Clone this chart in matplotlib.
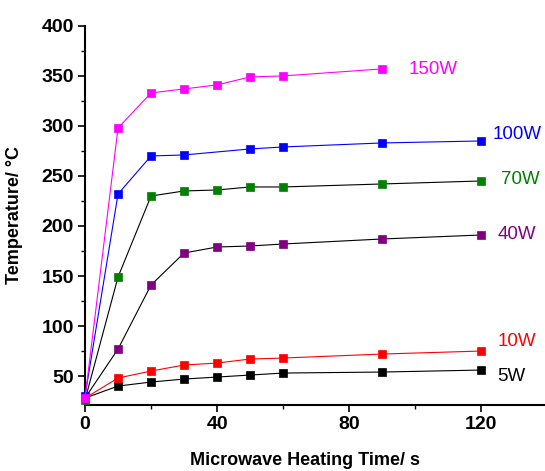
import matplotlib.pyplot as plt
from matplotlib.ticker import MultipleLocator

# heating time (s) and temperature (deg C) per microwave power
t_5w = [0, 10, 20, 30, 40, 50, 60, 90, 120]
T_5w = [28, 40, 44, 47, 49, 51, 53, 54, 56]
t_10w = [0, 10, 20, 30, 40, 50, 60, 90, 120]
T_10w = [28, 48, 55, 61, 63, 67, 68, 72, 75]
t_40w = [0, 10, 20, 30, 40, 50, 60, 90, 120]
T_40w = [28, 77, 141, 173, 179, 180, 182, 187, 191]
t_70w = [0, 10, 20, 30, 40, 50, 60, 90, 120]
T_70w = [26, 149, 230, 235, 236, 239, 239, 242, 245]
t_100w = [0, 10, 20, 30, 50, 60, 90, 120]
T_100w = [30, 232, 270, 271, 277, 279, 283, 285]
t_150w = [0, 10, 20, 30, 40, 50, 60, 90]
T_150w = [28, 298, 333, 337, 341, 349, 350, 357]

labels = ['5W', '10W', '40W', '70W', '100W', '150W']
label_pos = [(125, 50), (125, 85), (125, 191), (126, 246), (123.5, 291), (98, 356)]

series = [
    (t_5w, T_5w, 'black', 'black'),
    (t_10w, T_10w, 'red', 'red'),
    (t_40w, T_40w, 'black', '#800080'),
    (t_70w, T_70w, 'black', '#008000'),
    (t_100w, T_100w, 'blue', 'blue'),
    (t_150w, T_150w, '#ff00ff', '#ff00ff'),
]

plt.rcParams['font.family'] = ['Liberation Sans', 'DejaVu Sans']

fig = plt.figure(figsize=(5.45, 4.71), dpi=100)
ax = fig.add_axes([0.156, 0.140, 0.842, 0.805])

for (x, y, lc, mc), lab, (lx, ly) in zip(series, labels, label_pos):
    ax.plot(x, y, color=lc, lw=0.8, marker='s', markersize=6,
            markerfacecolor=mc, markeredgecolor=mc, markeredgewidth=0.5,
            clip_on=False, zorder=3)
    ax.text(lx, ly, lab, color=mc, fontsize=13.5, va='center', ha='left')

ax.set_xlim(0, 139)
ax.set_ylim(21, 400)
ax.xaxis.set_major_locator(MultipleLocator(40))
ax.xaxis.set_minor_locator(MultipleLocator(20))
ax.yaxis.set_major_locator(MultipleLocator(50))
ax.yaxis.set_minor_locator(MultipleLocator(25))

for s in ['top', 'right']:
    ax.spines[s].set_visible(False)
for s in ['left', 'bottom']:
    ax.spines[s].set_linewidth(1.5)

ax.tick_params(which='major', direction='out', length=5, width=1.2, labelsize=14, pad=3)
ax.tick_params(which='minor', direction='out', length=3, width=1)
for lbl in ax.get_xticklabels() + ax.get_yticklabels():
    lbl.set_fontweight('bold')

ax.set_xlabel('Microwave Heating Time/ s', fontsize=13, fontweight='bold')
ax.set_ylabel('Temperature/ \u00b0C', fontsize=13, fontweight='bold')
ax.xaxis.set_label_coords(0.48, -0.125)
ax.yaxis.set_label_coords(-0.135, 0.5)

fig.savefig('out.png', dpi=100)
